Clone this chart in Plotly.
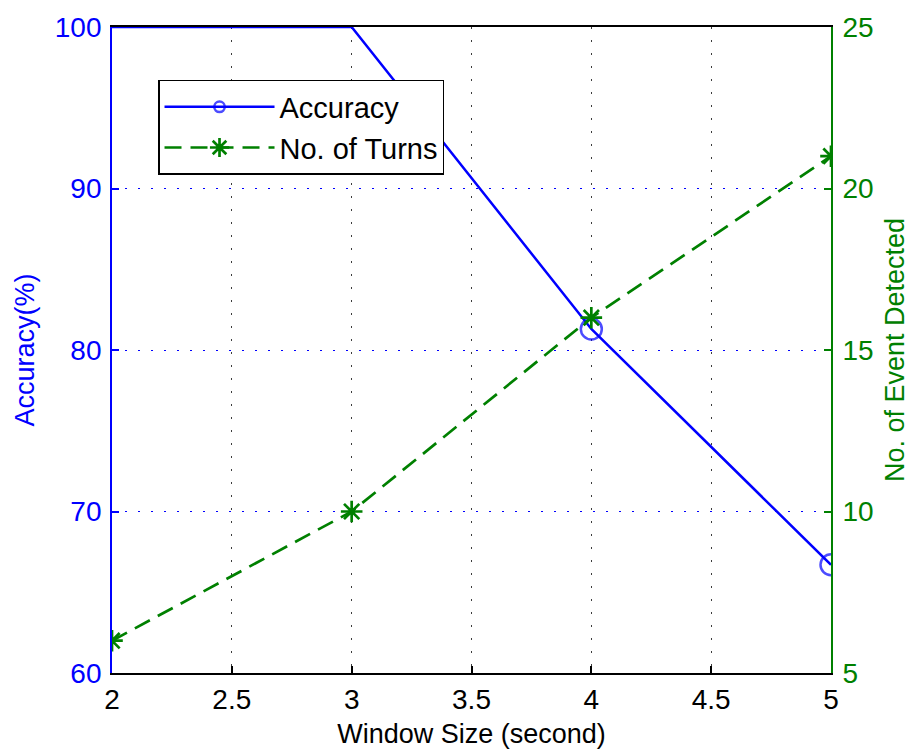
import plotly.graph_objects as go

window = [2, 3, 4, 5]
accuracy = [100, 100, 81.3, 66.7]
turns = [6, 10, 16, 21]

BLUE = "rgb(0,0,255)"
GREEN = "rgb(0,128,0)"
FONT = "Liberation Sans, Arial, Helvetica, sans-serif"
FS = 28
TS = 27

fig = go.Figure()
fig.add_trace(go.Scatter(
    x=window, y=accuracy, name="Accuracy", mode="lines+markers",
    line=dict(color=BLUE, width=2.5),
    marker=dict(symbol="circle-open", size=[0, 0, 21, 21], color=BLUE, line=dict(width=2.5)),
    cliponaxis=True,
))
fig.add_trace(go.Scatter(
    x=window, y=turns, name="No. of Turns", mode="lines+markers", yaxis="y2",
    line=dict(color=GREEN, width=2.7, dash="17px,9px"),
    marker=dict(symbol="asterisk-open", size=18, color=GREEN, line=dict(width=2.7, color=GREEN)),
))

fig.update_layout(
    width=911, height=749,
    margin=dict(l=112, r=80, t=27, b=76, autoexpand=False),
    paper_bgcolor="white", plot_bgcolor="white",
    font=dict(family=FONT, size=FS, color="black"),
    showlegend=True,
    legend=dict(x=0.064, y=0.918, xanchor="left", yanchor="top",
                bgcolor="white", bordercolor="black", borderwidth=1.5,
                font=dict(size=29, color="black"), itemwidth=110,
                tracegroupgap=0),
    xaxis=dict(range=[2, 5], tickvals=[2, 2.5, 3, 3.5, 4, 4.5, 5],
               ticktext=["2", "2.5", "3", "3.5", "4", "4.5", "5"],
               automargin=False,
               showline=True, linecolor="black", linewidth=2.4, mirror=True,
               layer="above traces",
               ticks="inside", ticklen=7, tickcolor="black", tickwidth=1.5,
               showgrid=True, gridcolor="rgb(60,60,60)", griddash="2px,11px", gridwidth=1,
               zeroline=False,
               title=dict(text="Window Size (second)", standoff=14,
                          font=dict(size=TS, color="black"))),
    yaxis=dict(range=[60, 100], tickvals=[60, 70, 80, 90, 100],
               automargin=False,
               showline=True, linecolor=BLUE, linewidth=1.8,
               ticks="inside", ticklen=7, tickcolor=BLUE, tickwidth=1.5,
               tickfont=dict(color=BLUE, size=FS), ticklabelstandoff=3,
               showgrid=True, gridcolor=BLUE, griddash="2px,11px", gridwidth=1.2,
               zeroline=False,
               title=dict(text="Accuracy(%)", standoff=12, font=dict(color=BLUE, size=TS))),
    yaxis2=dict(range=[5, 25], tickvals=[5, 10, 15, 20, 25],
                automargin=False,
                overlaying="y", side="right",
                showline=True, linecolor=GREEN, linewidth=1.8,
                ticks="inside", ticklen=7, tickcolor=GREEN, tickwidth=1.5,
                tickfont=dict(color=GREEN, size=FS), ticklabelstandoff=4,
                showgrid=False, zeroline=False,
                title=dict(text="No. of Event Detected", standoff=12, font=dict(color=GREEN, size=TS))),
)

fig.write_html("out.html")
